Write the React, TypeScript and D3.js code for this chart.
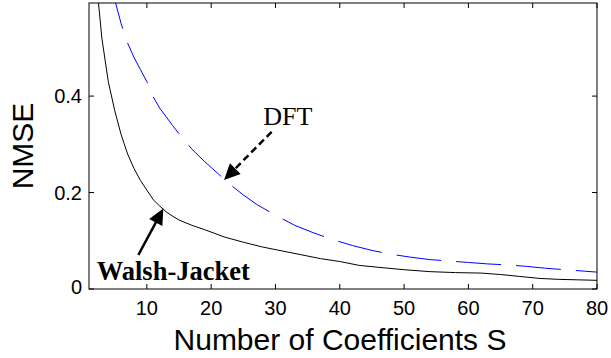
import React, { useEffect, useRef } from 'react';
import * as d3 from 'd3';

// Walsh-Jacket curve
const walshS = [1, 2, 3, 4, 5, 6, 7, 8, 9, 10, 11, 12, 13, 14, 15, 17, 19, 22, 25, 28, 31, 34, 37, 40, 43, 46, 50, 54, 58, 62, 65, 68, 71, 74, 77, 80];
const walshNmse = [0.95, 0.66, 0.52, 0.43, 0.37, 0.32, 0.28, 0.25, 0.225, 0.205, 0.185, 0.172, 0.16, 0.151, 0.143, 0.132, 0.123, 0.108, 0.097, 0.087, 0.079, 0.071, 0.063, 0.057, 0.049, 0.045, 0.04, 0.036, 0.034, 0.033, 0.03, 0.026, 0.022, 0.02, 0.019, 0.018];

// DFT curve
const dftS = [1, 2, 3, 4, 5, 6, 7, 8, 9, 10, 11, 12, 13, 14, 15, 17, 19, 21, 23, 25, 27, 30, 33, 36, 39, 42, 45, 48, 51, 54, 57, 60, 63, 66, 69, 72, 75, 78, 80];
const dftNmse = [1.0, 0.85, 0.74, 0.66, 0.6, 0.55, 0.51, 0.48, 0.455, 0.43, 0.398, 0.375, 0.357, 0.339, 0.322, 0.29, 0.264, 0.24, 0.216, 0.195, 0.176, 0.153, 0.132, 0.116, 0.102, 0.09, 0.08, 0.072, 0.066, 0.061, 0.058, 0.055, 0.052, 0.05, 0.047, 0.043, 0.04, 0.037, 0.035];

const xTicks = [10, 20, 30, 40, 50, 60, 70, 80];
const yTicks = [0, 0.2, 0.4];

interface Pt { s: number; v: number; }

const App: React.FC = () => {
  const svgRef = useRef<SVGSVGElement | null>(null);

  useEffect(() => {
    document.body.style.margin = '0';
    if (!svgRef.current) return;

    const W = 611;
    const H = 358;
    const left = 89, right = 597, top = 3, bottom = 289;
    const sans = 'Liberation Sans, Arial, sans-serif';
    const serif = 'Liberation Serif, Times New Roman, serif';

    const svg = d3.select(svgRef.current).attr('width', W).attr('height', H);
    svg.selectAll('*').remove();

    const x = d3.scaleLinear().domain([1, 80]).range([left, right]);
    const y = d3.scaleLinear().domain([0, 0.593]).range([bottom, top]);

    svg.append('rect').attr('width', W).attr('height', H).attr('fill', '#fff');

    svg.append('defs')
      .append('clipPath').attr('id', 'plotClip')
      .append('rect')
      .attr('x', left).attr('y', top)
      .attr('width', right - left).attr('height', bottom - top);

    const line = d3.line<Pt>().x((d) => x(d.s)).y((d) => y(d.v));

    const walsh: Pt[] = walshS.map((s, i) => ({ s, v: walshNmse[i] }));
    const dft: Pt[] = dftS.map((s, i) => ({ s, v: dftNmse[i] }));

    const curves = svg.append('g').attr('clip-path', 'url(#plotClip)');
    curves.append('path')
      .datum(dft)
      .attr('fill', 'none')
      .attr('stroke', '#0000ff')
      .attr('stroke-width', 1)
      .attr('stroke-dasharray', '45,15')
      .attr('d', line);
    curves.append('path')
      .datum(walsh)
      .attr('fill', 'none')
      .attr('stroke', '#000')
      .attr('stroke-width', 1)
      .attr('d', line);

    // box + inward ticks
    svg.append('rect')
      .attr('x', left).attr('y', top)
      .attr('width', right - left).attr('height', bottom - top)
      .attr('fill', 'none').attr('stroke', '#000').attr('stroke-width', 1);

    const tl = 5;
    xTicks.forEach((t) => {
      svg.append('line').attr('x1', x(t)).attr('x2', x(t)).attr('y1', bottom).attr('y2', bottom - tl).attr('stroke', '#000');
      svg.append('line').attr('x1', x(t)).attr('x2', x(t)).attr('y1', top).attr('y2', top + tl).attr('stroke', '#000');
      svg.append('text')
        .attr('x', x(t)).attr('y', 315)
        .attr('text-anchor', 'middle')
        .attr('font-family', sans).attr('font-size', 20)
        .text(t);
    });
    yTicks.forEach((t) => {
      svg.append('line').attr('x1', left).attr('x2', left + tl).attr('y1', y(t)).attr('y2', y(t)).attr('stroke', '#000');
      svg.append('line').attr('x1', right).attr('x2', right - tl).attr('y1', y(t)).attr('y2', y(t)).attr('stroke', '#000');
      svg.append('text')
        .attr('x', left - 7).attr('y', Math.min(y(t), bottom - 2) + 7)
        .attr('text-anchor', 'end')
        .attr('font-family', sans).attr('font-size', 20)
        .text(t);
    });

    // axis labels
    svg.append('text')
      .attr('x', 340).attr('y', 350)
      .attr('text-anchor', 'middle')
      .attr('font-family', sans).attr('font-size', 30)
      .text('Number of Coefficients S');
    svg.append('text')
      .attr('transform', `translate(33,${(top + bottom) / 2}) rotate(-90)`)
      .attr('text-anchor', 'middle')
      .attr('font-family', sans).attr('font-size', 30)
      .text('NMSE');

    // annotations (data coordinates)
    const arrow = (s0: number, v0: number, s1: number, v1: number, dash: string | null) => {
      const x0 = x(s0), y0 = y(v0), x1 = x(s1), y1 = y(v1);
      const len = Math.hypot(x1 - x0, y1 - y0);
      const ux = (x1 - x0) / len, uy = (y1 - y0) / len;
      const hl = 16, hw = 7.5;
      const bx = x1 - ux * hl, by = y1 - uy * hl;
      svg.append('line')
        .attr('x1', x0).attr('y1', y0).attr('x2', bx + ux * 2).attr('y2', by + uy * 2)
        .attr('stroke', '#000').attr('stroke-width', 2.5)
        .attr('stroke-dasharray', dash);
      svg.append('path')
        .attr('d', `M${x1},${y1}L${bx - uy * hw},${by + ux * hw}L${bx + uy * hw},${by - ux * hw}Z`)
        .attr('fill', '#000');
    };
    arrow(29.4, 0.326, 22.0, 0.226, '7,4');
    arrow(8.67, 0.0705, 12.56, 0.167, null);

    svg.append('text')
      .attr('x', x(28.1)).attr('y', y(0.34))
      .attr('font-family', serif).attr('font-size', 26)
      .text('DFT');
    svg.append('text')
      .attr('x', x(2.2)).attr('y', y(0.0187))
      .attr('font-family', serif).attr('font-size', 26.5).attr('font-weight', 'bold')
      .text('Walsh-Jacket');
  }, []);

  return <svg ref={svgRef} style={{ display: 'block' }} />;
};

export default App;
